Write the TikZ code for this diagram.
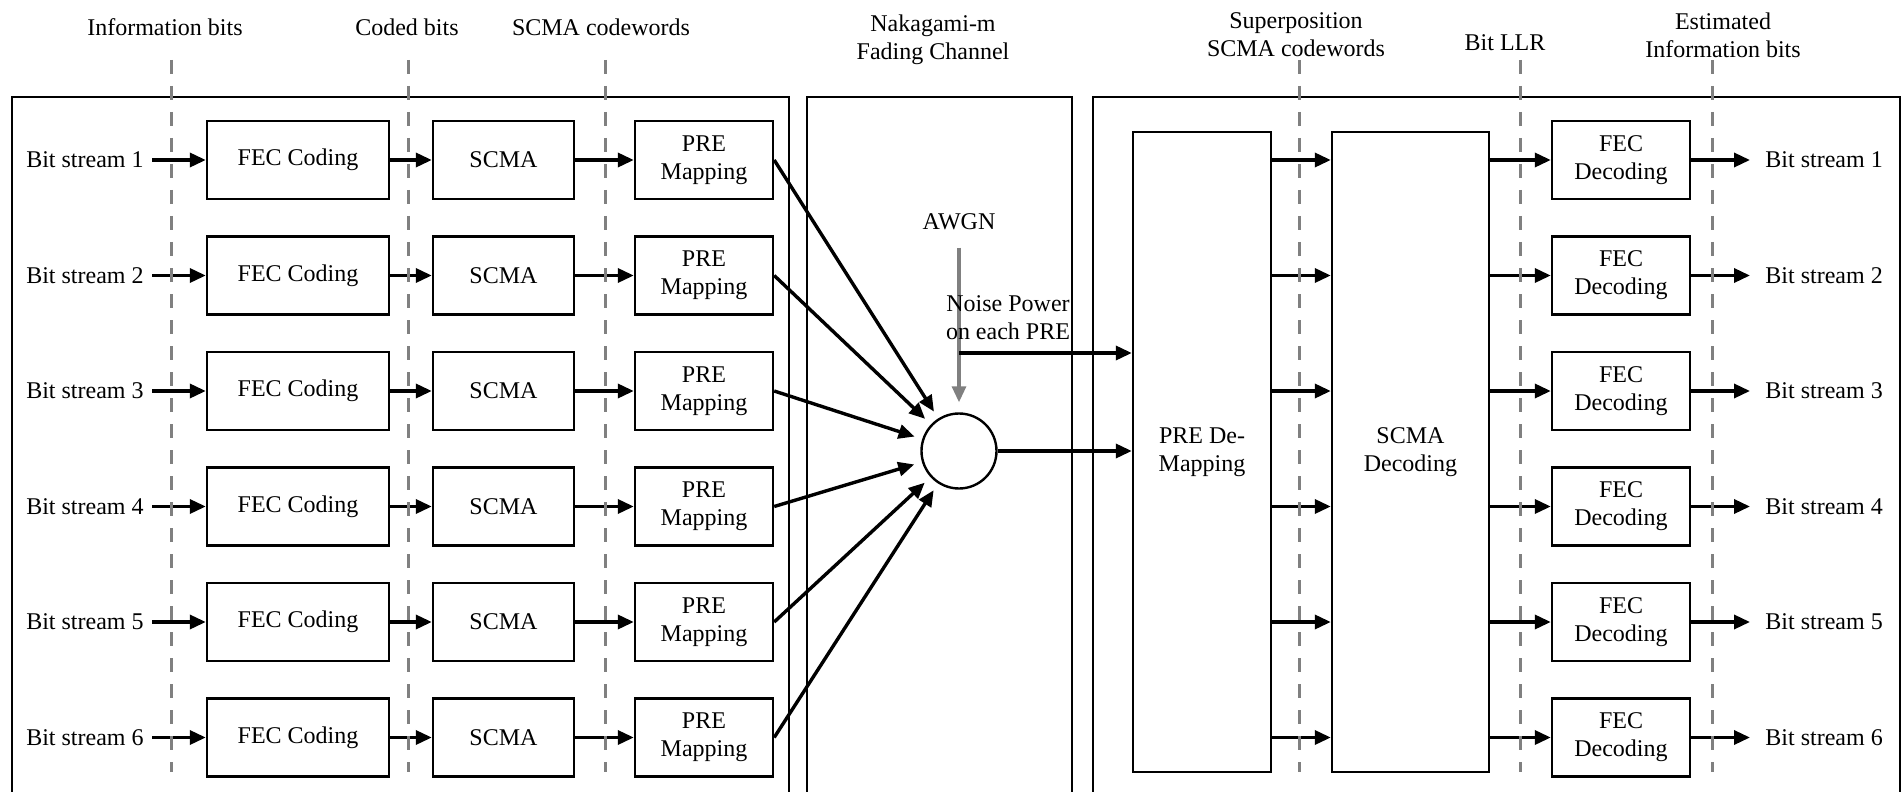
\documentclass[tikz,border=0pt]{standalone}
\usepackage{fontspec}
\setmainfont{Liberation Serif}
\usetikzlibrary{arrows.meta,calc}

\begin{document}
\begin{tikzpicture}[x=0.5pt,y=-0.5pt,
  font=\fontsize{12}{14}\selectfont,
  blk/.style={draw,line width=1.2pt,rectangle,inner sep=0pt,align=center,minimum height=39pt},
  panel/.style={line width=1.2pt},
  sig/.style={line width=1.7pt,-{Triangle[length=8pt,width=7pt]}},
  noisearrow/.style={draw=gray,line width=1.6pt,-{Triangle[length=8pt,width=7pt]}},
  guide/.style={draw=gray,line width=1.5pt,dash pattern=on 7pt off 6pt},
  lbl/.style={align=center,inner sep=0pt}
]
\useasboundingbox (0,0) rectangle (1903,792);

% transmitter, channel and receiver panels (open at the bottom)
\draw[panel] (12,800) -- (12,97) -- (789,97) -- (789,800);
\draw[panel] (807,800) -- (807,97) -- (1072,97) -- (1072,800);
\draw[panel] (1093,800) -- (1093,97) -- (1900,97) -- (1900,800);

% column headings
\node[lbl] (hInfo) at (165,27) {Information bits};
\node[lbl] (hCoded) at (407,27) {Coded bits};
\node[lbl] (hCw) at (601,27) {SCMA codewords};
\node[lbl] (hChan) at (933,40) {Nakagami-m\\Fading Channel};
\node[lbl] (hSup) at (1296,35) {Superposition\\SCMA codewords};
\node[lbl] (hLLR) at (1505,43) {Bit LLR};
\node[lbl] (hEst) at (1723,35) {Estimated\\Information bits};

% summing node with additive noise
\node[circle,draw,line width=1.2pt,minimum size=37.5pt,inner sep=0pt] (sum) at (959,451) {};
\node[lbl] (awgn) at (959,222) {AWGN};
\draw[noisearrow,shorten <=8.5pt,shorten >=5pt] (awgn.south) -- (sum.north);
\node[lbl] (npow) at (1008,318) {Noise Power\\on each PRE};

% receiver blocks
\node[blk,minimum width=69pt,minimum height=320pt] (demap) at (1202,452) {PRE De-\\Mapping};
\node[blk,minimum width=78.5pt,minimum height=320pt] (scmad) at (1410.5,452) {SCMA\\Decoding};

\coordinate (ntap) at (959,353);
\draw[sig] (ntap) -- (ntap -| demap.west);
\draw[sig] (sum.east) -- (sum.east -| demap.west);

% per-user chains
\foreach \i in {1,...,6}{
  \pgfmathsetmacro{\yy}{160+115.5*(\i-1)}
  \node[lbl,anchor=east,inner xsep=4pt] (in\i) at (152,\yy) {Bit stream \i};
  \node[blk,minimum width=91pt] (fec\i) at (298,\yy) {FEC Coding};
  \node[blk,minimum width=70.5pt] (scma\i) at (503.5,\yy) {SCMA};
  \node[blk,minimum width=69pt] (pre\i) at (704,\yy) {PRE\\Mapping};
  \draw[sig] (in\i.east) -- (fec\i.west);
  \draw[sig] (fec\i.east) -- (scma\i.west);
  \draw[sig] (scma\i.east) -- (pre\i.west);
  \draw[sig,shorten >=4pt] (pre\i.east) -- (sum);

  \node[blk,minimum width=69pt] (fecd\i) at (1621,\yy) {FEC\\Decoding};
  \node[lbl,anchor=west,inner xsep=7.5pt] (out\i) at (1750,\yy) {Bit stream \i};
  \draw[sig] (demap.east |- fecd\i.west) -- (scmad.west |- fecd\i.west);
  \draw[sig] (scmad.east |- fecd\i.west) -- (fecd\i.west);
  \draw[sig] (fecd\i.east) -- (out\i.west);
}

% signal boundaries
\foreach \gx in {171,408,605,1299,1520,1712}{
  \draw[guide] (\gx,60) -- (\gx,772);
}
\end{tikzpicture}
\end{document}
